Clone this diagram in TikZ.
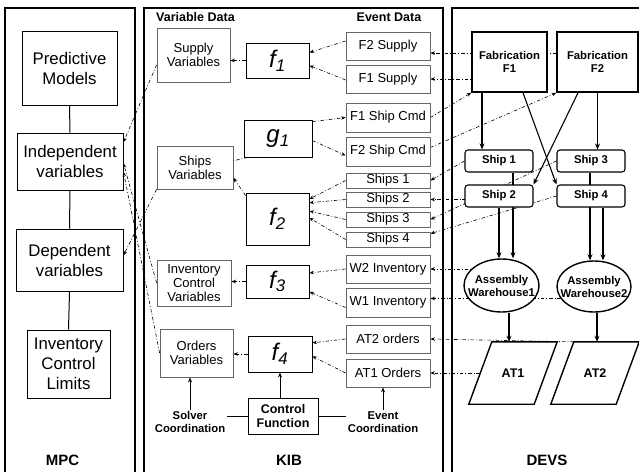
\documentclass[tikz,border=0pt]{standalone}
\usepackage{fontspec}
\setmainfont{Liberation Sans}
\usetikzlibrary{arrows.meta,shapes.geometric,backgrounds}

\newcommand{\mpcsize}{\fontsize{16.8}{20}\selectfont}
\newcommand{\kibsize}{\fontsize{13}{14}\selectfont}
\newcommand{\fnsize}{\fontsize{24}{26}\selectfont\itshape}
\newcommand{\devssize}{\fontsize{11.3}{13}\selectfont\bfseries}
\newcommand{\headsize}{\fontsize{12.5}{14}\selectfont\bfseries}
\newcommand{\titlesize}{\fontsize{15}{17}\selectfont\bfseries}

\begin{document}
\begin{tikzpicture}[x=1pt, y=-1pt,
    panel/.style={line width=2pt},
    mpcbox/.style={draw, line width=1pt, align=center, font=\mpcsize, inner sep=0pt},
    varbox/.style={draw=black!60, line width=0.8pt, align=center, font=\kibsize, inner sep=0pt},
    evbox/.style={draw=black!60, line width=0.8pt, font=\kibsize, inner sep=0pt, minimum width=84},
    fnbox/.style={draw, line width=0.8pt, font=\fnsize, inner sep=0pt},
    fabbox/.style={draw, fill=white, line width=1.6pt, align=center, font=\devssize, inner sep=0pt},
    shipbox/.style={draw, fill=white, rounded corners=3pt, line width=1.1pt, font=\devssize,
        inner sep=0pt, minimum width=68, minimum height=22},
    whouse/.style={ellipse, draw, fill=white, line width=1.4pt, inner sep=0pt},
    atbox/.style={inner sep=0pt, minimum width=65, minimum height=62,
        font=\fontsize{12.5}{14}\selectfont\bfseries},
    atshape/.style={draw, fill=white, line width=1.4pt, line join=miter},
    link/.style={line width=0.6pt, dash pattern=on 3.5pt off 2pt on 0.8pt off 2pt,
        -{Stealth[length=4.5pt,width=3.5pt]}},
    flow/.style={line width=1.1pt, -{Stealth[length=6pt,width=5pt]}}]
    \useasboundingbox (0,0) rectangle (639,471);

    \draw[panel] (5,472) -- (5,8) -- (135,8) -- (135,472);
    \draw[panel] (144,472) -- (144,8) -- (443,8) -- (443,472);
    \draw[panel] (452,472) -- (452,8) -- (641,8);

    \node[font=\titlesize] (mpc) at (62.5,460) {MPC};
    \node[font=\titlesize] (kib) at (289,460) {KIB};
    \node[font=\titlesize] (devs) at (547,460) {DEVS};

    \node[mpcbox, minimum width=95, minimum height=74] (pred) at (69.5,68) {Predictive\\Models};
    \node[mpcbox, minimum width=106, minimum height=57] (indep) at (70,161.5) {Independent\\variables};
    \node[mpcbox, minimum width=107, minimum height=62] (dep) at (69.5,260) {Dependent\\variables};
    \node[mpcbox, minimum width=83, minimum height=68] (icl) at (68.5,364) {Inventory\\Control\\Limits};
    \draw[line width=1pt] (pred.south) -- (indep.north);
    \draw[line width=1pt] (indep.south) -- (dep.north);
    \draw[line width=1pt] (dep.south) -- (icl.north);

    \node[font=\headsize, anchor=west, inner sep=0pt] (vardata) at (156,17) {Variable Data};
    \node[font=\headsize, inner sep=0pt] (evdata) at (389,17) {Event Data};

    \node[varbox, minimum width=73, minimum height=54] (supv) at (193.5,55) {Supply\\Variables};
    \node[varbox, minimum width=76, minimum height=43] (shipv) at (195,167.5) {Ships\\Variables};
    \node[varbox, minimum width=74, minimum height=46] (icv) at (194,283) {Inventory\\Control\\Variables};
    \node[varbox, minimum width=73, minimum height=48] (ordv) at (196.5,353) {Orders\\Variables};

    \node[fnbox, minimum width=63, minimum height=35] (f1) at (277.5,60.5) {f\textsubscript{1}};
    \node[fnbox, minimum width=68, minimum height=37] (g1) at (278,138.5) {g\textsubscript{1}};
    \node[fnbox, minimum width=63, minimum height=52] (f2) at (277.5,219) {f\textsubscript{2}};
    \node[fnbox, minimum width=63, minimum height=33] (f3) at (277.5,281.5) {f\textsubscript{3}};
    \node[fnbox, minimum width=64, minimum height=36] (f4) at (280,354) {f\textsubscript{4}};

    \node[evbox, minimum height=28] (F2sup) at (388,46) {F2 Supply};
    \node[evbox, minimum height=28] (F1sup) at (388,79) {F1 Supply};
    \node[evbox, minimum height=29] (F1cmd) at (388,117.5) {F1 Ship Cmd};
    \node[evbox, minimum height=29] (F2cmd) at (388,151.5) {F2 Ship Cmd};
    \node[evbox, minimum height=15] (sh1) at (388,180.5) {Ships 1};
    \node[evbox, minimum height=15] (sh2) at (388,199.5) {Ships 2};
    \node[evbox, minimum height=15] (sh3) at (388,219.5) {Ships 3};
    \node[evbox, minimum height=15] (sh4) at (388,239.5) {Ships 4};
    \node[evbox, minimum height=28] (W2inv) at (388,269) {W2 Inventory};
    \node[evbox, minimum height=29] (W1inv) at (388,302.5) {W1 Inventory};
    \node[evbox, minimum height=28] (AT2ord) at (388,339) {AT2 orders};
    \node[evbox, minimum height=28] (AT1ord) at (388,373) {AT1 Orders};

    \node[draw, line width=1pt, align=center, font=\headsize, inner sep=0pt,
        minimum width=70, minimum height=36] (ctrl) at (283,416) {Control\\Function};
    \node[align=center, font=\devssize, inner sep=1.5pt] (solver) at (190,422) {Solver\\Coordination};
    \node[align=center, font=\devssize, inner sep=1.5pt] (evcoord) at (383,422) {Event\\Coordination};

    \draw[link] ([yshift=5pt]F2sup.west) -- ([yshift=8pt]f1.east);
    \draw[link] ([yshift=-1pt]F1sup.west) -- ([yshift=-5pt]f1.east);
    \draw[link] (f1.west) -- (f1.west -| supv.east);
    \draw[link] ([yshift=-2pt]g1.north east) -- (F1cmd.west);
    \draw[link] ([yshift=-2pt]g1.east) -- ([yshift=-4pt]F2cmd.west);
    \draw[link, -] ([xshift=4pt]g1.south west) -- (shipv.10);
    \draw[link] ([yshift=-3pt]f2.north west) -- (shipv.-15);
    \draw[link] (sh1.west) -- (f2.32);
    \draw[link] (sh2.west) -- (f2.27);
    \draw[link] (sh3.west) -- (f2.14);
    \draw[link] (sh4.west) -- (f2.2);
    \draw[link] (W2inv.west) -- (f3.15);
    \draw[link] ([yshift=-5pt]W1inv.west) -- (f3.-18);
    \draw[link] (f3.west) -- (f3.west -| icv.east);
    \draw[link] (AT2ord.west) -- (f4.19);
    \draw[link] (AT1ord.west) -- (f4.-4);
    \draw[link] (f4.west) -- (f4.west -| ordv.east);
    \draw[-{Stealth[length=5pt,width=4pt]}, line width=0.8pt] (ctrl.north -| f4) -- (f4.south);
    \draw[line width=0.8pt] (ctrl.west) -- (ctrl.west -| solver.east);
    \draw[line width=0.8pt] (ctrl.east) -- (ctrl.east -| evcoord.west);
    \draw[-{Stealth[length=5pt,width=4pt]}, line width=0.8pt] (solver.north) -- (solver.north |- ordv.south);
    \draw[-{Stealth[length=5pt,width=4pt]}, line width=0.8pt] (evcoord.north) -- (evcoord.north |- AT1ord.south);

    \draw[link] (supv.195) -- (indep.20);
    \draw[link] (icv.west) -- (indep.-2);
    \draw[link] (ordv.west) -- (indep.-11);
    \draw[link] (shipv.south west) -- (dep.5);

    \node[fabbox, minimum width=75, minimum height=60] (fab1) at (509.5,62) {Fabrication\\F1};
    \node[fabbox, minimum width=81, minimum height=60] (fab2) at (597.5,62) {Fabrication\\F2};
    \node[shipbox] (ship1) at (499,161) {Ship 1};
    \node[shipbox] (ship2) at (499,196) {Ship 2};
    \node[shipbox] (ship3) at (591,161) {Ship 3};
    \node[shipbox] (ship4) at (591,196) {Ship 4};
    \node[whouse, minimum width=75, minimum height=53,
        label={[align=center, font=\devssize, inner sep=0pt]center:Assembly\\Warehouse1}] (wh1) at (501.5,285.5) {};
    \node[whouse, minimum width=74, minimum height=51,
        label={[align=center, font=\devssize, inner sep=0pt]center:Assembly\\Warehouse2}] (wh2) at (594,286.5) {};
    \node[atbox] (AT1) at (513,373) {AT1};
    \node[atbox] (AT2) at (595,373) {AT2};

    \begin{pgfonlayer}{background}
        \draw[link] ([yshift=9pt]fab2.center) -- ([yshift=9pt]fab2.center -| F2sup.east);
        \draw[link] (fab1.center |- F1sup.east) -- (F1sup.east);
        \draw[link] (F1cmd.east) -- (fab1.south west);
        \draw[link] ([yshift=4pt]F2cmd.east) -- (fab2.south west);
        \draw[link] (ship1.west) -- (sh1.east);
        \draw[link] (ship2.center |- sh2.east) -- (sh2.east);
        \draw[link] (ship3.west) -- (sh3.east);
        \draw[link] (ship4.west) -- ([yshift=-2pt]sh4.north east);
        \draw[link] (wh1.center |- W2inv.east) -- (W2inv.east);
        \draw[link] ([yshift=4pt]wh2.center |- W1inv.east) -- ([yshift=4pt]W1inv.east);
        \draw[link] ([xshift=11.5pt]AT2.north west) -- (AT2ord.east);
        \draw[link] (AT1.center) -- (AT1ord.east);

        \draw[flow] ([xshift=-27.5pt]fab1.south) -- ([xshift=-27.5pt]fab1.south |- ship1.north);
        \draw[flow] ([xshift=13.5pt]fab1.south) -- (ship4.north west);
        \draw[flow] ([xshift=-19.5pt]fab2.south) -- (ship2.north east);
        \draw[flow] (fab2.south) -- (fab2.south |- ship3.north);
        \draw[flow] ([xshift=14pt]ship1.south) -- ([xshift=14pt]ship1.south |- wh1.north);
        \draw[flow] (ship2.south) -- (ship2.south |- wh1.north);
        \draw[flow] ([xshift=-1pt]ship3.south) -- ([xshift=-1pt]ship3.south |- wh2.north);
        \draw[flow] ([xshift=12pt]ship4.south) -- ([xshift=12pt]ship4.south |- wh2.north);
        \draw[flow] ([xshift=7.5pt]wh1.south) -- ([xshift=7.5pt]wh1.south |- AT1.north);
        \draw[flow] ([xshift=3pt]wh2.south) -- ([xshift=3pt]wh2.south |- AT2.north);

        \foreach \at in {AT1,AT2}
            \draw[atshape] ([xshift=11.5pt]\at.north west) -- ([xshift=11.5pt]\at.north east)
                -- ([xshift=-11.5pt]\at.south east) -- ([xshift=-11.5pt]\at.south west) -- cycle;
    \end{pgfonlayer}
\end{tikzpicture}
\end{document}
